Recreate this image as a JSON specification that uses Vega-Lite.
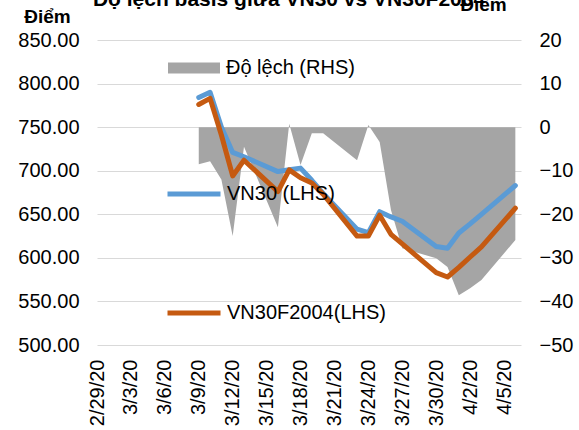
{
  "$schema": "https://vega.github.io/schema/vega-lite/v6.json",
  "width": 424,
  "height": 305,
  "autosize": "none",
  "padding": {"left": 97, "top": 40, "right": 58, "bottom": 85},
  "background": "white",
  "config": {
    "font": "Liberation Sans",
    "view": {"stroke": null},
    "axis": {"labelFont": "Liberation Sans", "labelColor": "#000000", "labelFontSize": 20, "titleFont": "Liberation Sans", "domain": false, "ticks": false, "labelOverlap": false, "labelBound": false},
    "axisX": {"labelOverlap": false}
  },
  "title": {"text": "Độ lệch basis giữa VN30 vs VN30F2004", "font": "Liberation Sans", "fontSize": 21, "fontWeight": "bold", "color": "#000000", "anchor": "middle", "frame": "group", "dx": -20, "offset": 0, "dy": 15},
  "data": {"values": [
    {"date": "2020-03-09T00:00:00", "VN30": 784, "VN30F2004": 776, "dolech": -8.5},
    {"date": "2020-03-10T00:00:00", "VN30": 790, "VN30F2004": 783, "dolech": -7.8},
    {"date": "2020-03-11T00:00:00", "VN30": 750, "VN30F2004": 741, "dolech": -12},
    {"date": "2020-03-12T00:00:00", "VN30": 721, "VN30F2004": 694, "dolech": -25},
    {"date": "2020-03-13T00:00:00", "VN30": 716, "VN30F2004": 712, "dolech": -4.5},
    {"date": "2020-03-16T00:00:00", "VN30": 699, "VN30F2004": 676, "dolech": -23},
    {"date": "2020-03-17T00:00:00", "VN30": 701, "VN30F2004": 701, "dolech": 0.8},
    {"date": "2020-03-18T00:00:00", "VN30": 703, "VN30F2004": 692, "dolech": -8.7},
    {"date": "2020-03-19T00:00:00", "VN30": 689, "VN30F2004": 686, "dolech": -1.4},
    {"date": "2020-03-20T00:00:00", "VN30": 674, "VN30F2004": 673, "dolech": -1.4},
    {"date": "2020-03-23T00:00:00", "VN30": 633, "VN30F2004": 625, "dolech": -7.6},
    {"date": "2020-03-24T00:00:00", "VN30": 629, "VN30F2004": 625, "dolech": 0.5},
    {"date": "2020-03-25T00:00:00", "VN30": 653, "VN30F2004": 649, "dolech": -3.4},
    {"date": "2020-03-26T00:00:00", "VN30": 647, "VN30F2004": 627, "dolech": -19},
    {"date": "2020-03-27T00:00:00", "VN30": 642, "VN30F2004": 616, "dolech": -27.8},
    {"date": "2020-03-30T00:00:00", "VN30": 613, "VN30F2004": 583, "dolech": -30.1},
    {"date": "2020-03-31T00:00:00", "VN30": 611, "VN30F2004": 578, "dolech": -32.1},
    {"date": "2020-04-01T00:00:00", "VN30": 628.5, "VN30F2004": 589, "dolech": -38.6},
    {"date": "2020-04-02T00:00:00", "VN30": 639, "VN30F2004": 601, "dolech": -37},
    {"date": "2020-04-03T00:00:00", "VN30": 650, "VN30F2004": 612.5, "dolech": -35.1},
    {"date": "2020-04-06T00:00:00", "VN30": 683, "VN30F2004": 657, "dolech": -25.9}
  ]},
  "encoding": {
    "x": {
      "field": "date", "type": "temporal",
      "scale": {"domain": [{"year": 2020, "month": 2, "date": 29}, {"year": 2020, "month": 4, "date": 6, "hours": 12}]},
      "axis": {
        "values": [
          {"year": 2020, "month": 2, "date": 29}, {"year": 2020, "month": 3, "date": 3}, {"year": 2020, "month": 3, "date": 6},
          {"year": 2020, "month": 3, "date": 9}, {"year": 2020, "month": 3, "date": 12}, {"year": 2020, "month": 3, "date": 15},
          {"year": 2020, "month": 3, "date": 18}, {"year": 2020, "month": 3, "date": 21}, {"year": 2020, "month": 3, "date": 24},
          {"year": 2020, "month": 3, "date": 27}, {"year": 2020, "month": 3, "date": 30}, {"year": 2020, "month": 4, "date": 2},
          {"year": 2020, "month": 4, "date": 5}
        ],
        "format": "%-m/%-d/%y", "labelAngle": -90, "labelPadding": 14, "grid": false, "title": null,
        "labelOverlap": false, "labelSeparation": 0, "labelFlush": false
      }
    }
  },
  "layer": [
    {
      "mark": {"type": "area", "color": "#A5A5A5", "opacity": 1},
      "encoding": {
        "y": {
          "field": "dolech", "type": "quantitative", "stack": null,
          "scale": {"domain": [-50, 20], "nice": false, "zero": false},
          "axis": {
            "orient": "right", "values": [-50, -40, -30, -20, -10, 0, 10, 20], "format": "d", "grid": false,
            "labelPadding": 18, "title": "Điểm", "titleAngle": 0, "titleX": -38, "titleY": -30,
            "titleAlign": "center", "titleBaseline": "alphabetic", "titleFontSize": 19, "titleFontWeight": "bold", "titleColor": "#000000"
          }
        },
        "y2": {"datum": 0},
        "fill": {
          "datum": "Độ lệch (RHS)",
          "scale": {"range": ["#A5A5A5"]},
          "legend": {
            "orient": "none", "legendX": 71, "legendY": 2, "title": null, "padding": 0,
            "symbolType": "M-1,-0.21H1V0.21H-1Z", "symbolSize": 2704, "symbolStrokeWidth": 0,
            "labelFontSize": 20, "labelColor": "#000000", "labelFont": "Liberation Sans", "labelOffset": 6
          }
        }
      }
    },
    {
      "transform": [{"fold": ["VN30", "VN30F2004"], "as": ["series", "value"]}],
      "mark": {"type": "line", "strokeWidth": 5, "strokeCap": "round", "strokeJoin": "round"},
      "encoding": {
        "y": {
          "field": "value", "type": "quantitative",
          "scale": {"domain": [500, 850], "nice": false, "zero": false},
          "axis": {
            "orient": "left", "values": [500, 550, 600, 650, 700, 750, 800, 850], "format": ".2f",
            "grid": true, "gridColor": "#D9D9D9", "gridWidth": 1, "labelPadding": 18,
            "title": "Điểm", "titleAngle": 0, "titleX": -50, "titleY": -18, "titleAlign": "center",
            "titleBaseline": "alphabetic", "titleFontSize": 19, "titleFontWeight": "bold", "titleColor": "#000000"
          }
        },
        "stroke": {
          "field": "series", "type": "nominal",
          "scale": {"domain": ["VN30", "VN30F2004"], "range": ["#5B9BD5", "#C55A11"]},
          "legend": {
            "orient": "none", "legendX": 68, "legendY": 125, "title": null, "padding": 0, "direction": "vertical",
            "symbolType": "stroke", "symbolSize": 2809, "symbolStrokeWidth": 5, "rowPadding": 80,
            "labelFontSize": 20, "labelColor": "#000000", "labelFont": "Liberation Sans", "labelOffset": 4,
            "labelExpr": "datum.label == 'VN30' ? 'VN30 (LHS)' : 'VN30F2004(LHS)'"
          }
        }
      }
    }
  ],
  "resolve": {"scale": {"y": "independent", "fill": "independent", "stroke": "independent"}}
}
